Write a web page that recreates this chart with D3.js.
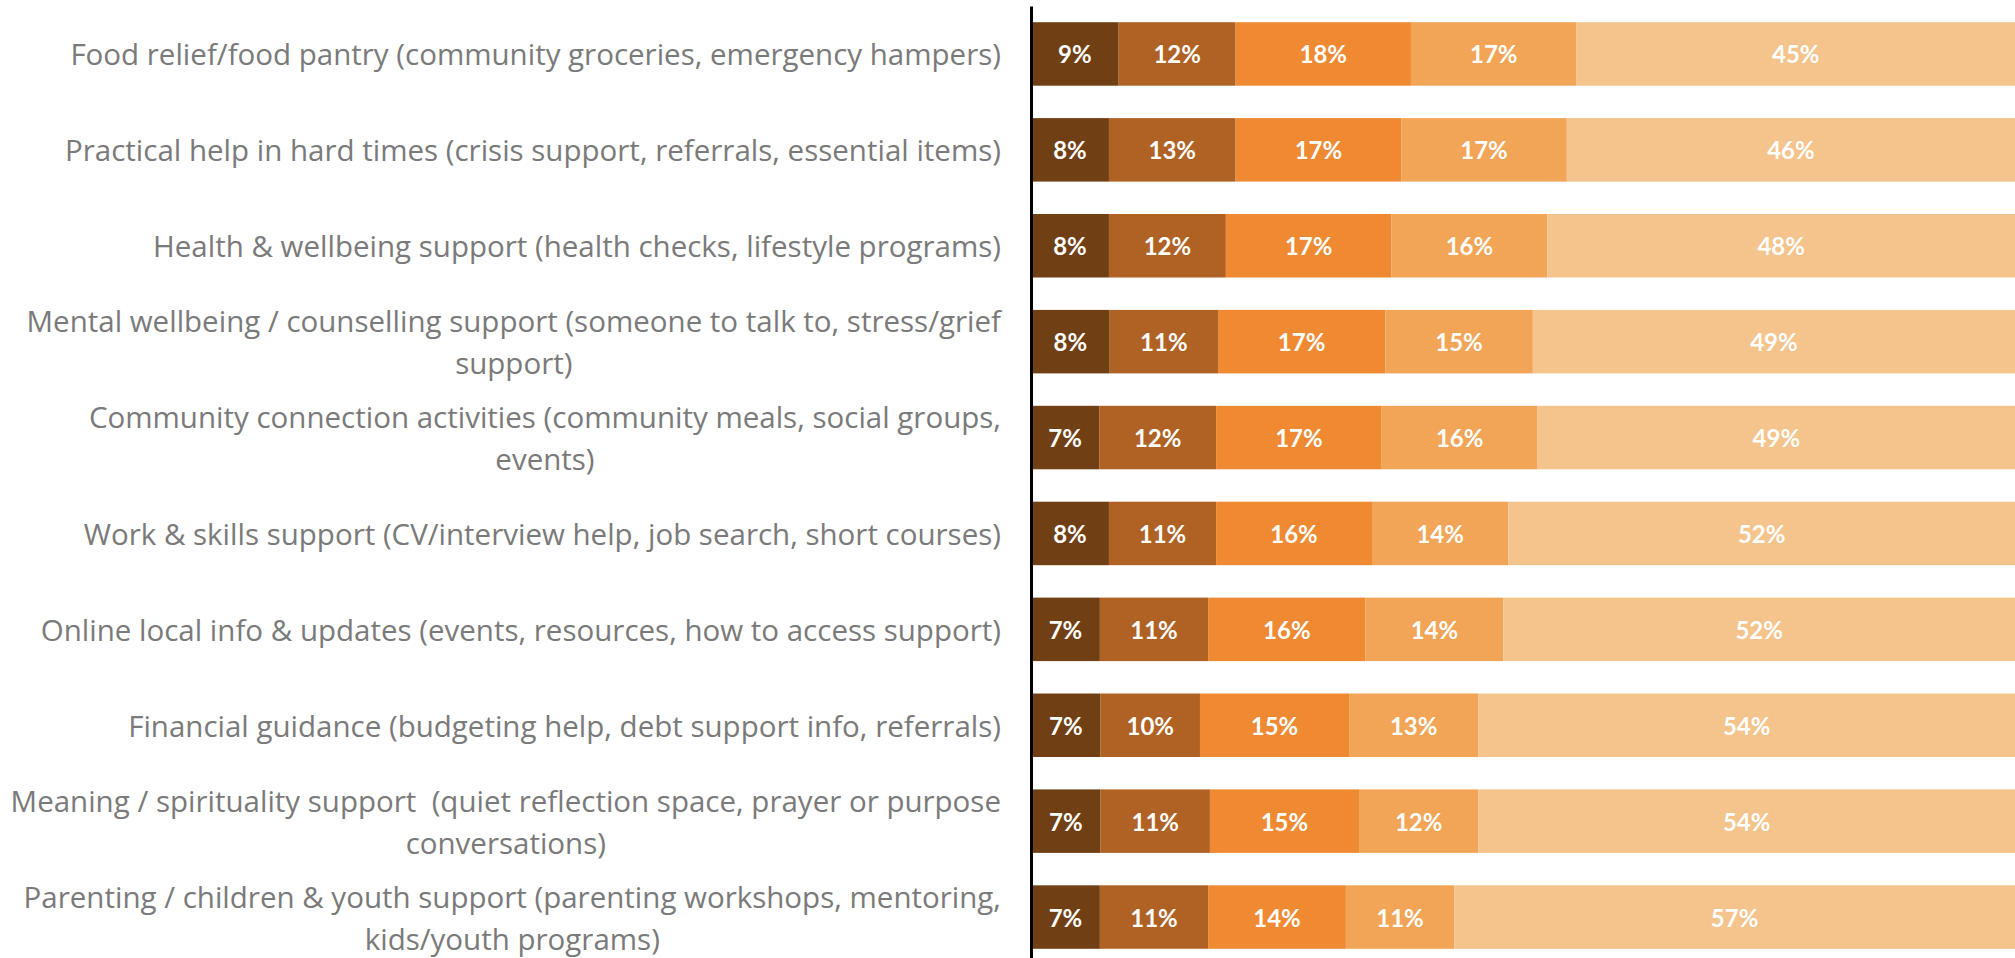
<!DOCTYPE html>
<html>
<head>
<meta charset="utf-8">
<script src="https://cdn.jsdelivr.net/npm/d3@7"></script>
<style>
  html, body { margin: 0; padding: 0; background: #ffffff; }
  svg { display: block; }
</style>
</head>
<body>
<svg id="chart" width="2015" height="958"></svg>
<script>
// ---- Data ----
const categories = [
  "Food relief/food pantry (community groceries, emergency hampers)",
  "Practical help in hard times (crisis support, referrals, essential items)",
  "Health & wellbeing support (health checks, lifestyle programs)",
  "Mental wellbeing / counselling support (someone to talk to, stress/grief\nsupport)",
  "Community connection activities (community meals, social groups,\nevents)",
  "Work & skills support (CV/interview help, job search, short courses)",
  "Online local info & updates (events, resources, how to access support)",
  "Financial guidance (budgeting help, debt support info, referrals)",
  "Meaning / spirituality support  (quiet reflection space, prayer or purpose\nconversations)",
  "Parenting / children & youth support (parenting workshops, mentoring,\nkids/youth programs)"
];
const seriesKeys = ["s1", "s2", "s3", "s4", "s5"];
const s1 = [9, 8, 8, 8, 7, 8, 7, 7, 7, 7];
const s2 = [12, 13, 12, 11, 12, 11, 11, 10, 11, 11];
const s3 = [18, 17, 17, 17, 17, 16, 16, 15, 15, 14];
const s4 = [17, 17, 16, 15, 16, 14, 14, 13, 12, 11];
const s5 = [45, 46, 48, 49, 49, 52, 52, 54, 54, 57];
const seriesColors = ["#713f14", "#b06224", "#ef8a33", "#f2a556", "#f4c48c"];

// ---- Build table ----
const seriesValues = [s1, s2, s3, s4, s5];
const rows = categories.map((c, i) => {
  const r = { cat: c };
  seriesKeys.forEach((k, j) => { r[k] = seriesValues[j][i]; });
  return r;
});

const svg = d3.select("#chart");
const W = 2015, H = 958;
const axisX = 1031;
const labelRight = 1001;

const x = d3.scaleLinear().domain([0, 1]).range([axisX, W]);
const y = d3.scaleBand()
  .domain(categories)
  .range([6, 965])
  .paddingInner(0.338)
  .paddingOuter(0.169);
const color = d3.scaleOrdinal().domain(seriesKeys).range(seriesColors);

const stacked = d3.stack().keys(seriesKeys).offset(d3.stackOffsetExpand)(rows);

const layer = svg.append("g").selectAll("g")
  .data(stacked)
  .join("g")
  .attr("fill", d => color(d.key));

layer.selectAll("rect")
  .data(d => d.map(v => Object.assign(v, { key: d.key })))
  .join("rect")
  .attr("x", d => x(d[0]))
  .attr("y", d => y(d.data.cat))
  .attr("width", d => x(d[1]) - x(d[0]))
  .attr("height", y.bandwidth());

const fmt = d3.format(".0f");
layer.selectAll("text")
  .data(d => d)
  .join("text")
  .attr("x", d => (x(d[0]) + x(d[1])) / 2)
  .attr("y", d => y(d.data.cat) + y.bandwidth() / 2)
  .attr("text-anchor", "middle")
  .attr("dominant-baseline", "central")
  .attr("fill", "#ffffff")
  .style("font-family", "Lato, 'Open Sans', sans-serif")
  .style("font-weight", "700")
  .style("font-size", "24px")
  .text(d => fmt(d.data[d.key]) + "%");

// ---- Axis (vertical line) ----
const axis = svg.append("g")
  .attr("transform", `translate(${axisX},0)`)
  .call(d3.axisLeft(y).tickSize(0).tickSizeOuter(0).tickFormat(""));
axis.select(".domain").attr("stroke", "#000").attr("stroke-width", 3);
axis.selectAll(".tick").remove();

// ---- Category labels ----
const lineH = 42;
const labels = svg.append("g");
categories.forEach(c => {
  const lines = c.split("\n");
  const cy = y(c) + y.bandwidth() / 2;
  const t = labels.append("text")
    .attr("text-anchor", "middle")
    .attr("fill", "#7a7a7a")
    .style("font-family", "'Open Sans', Lato, sans-serif")
    .style("font-size", "29.5px")
    .style("white-space", "pre");
  const spans = lines.map((ln, i) =>
    t.append("tspan")
      .attr("y", cy + (i - (lines.length - 1) / 2) * lineH)
      .attr("dominant-baseline", "central")
      .text(ln)
  );
  const maxW = d3.max(spans, s => s.node().getComputedTextLength());
  const cx = labelRight - maxW / 2;
  spans.forEach(s => s.attr("x", cx));
});
</script>
</body>
</html>
